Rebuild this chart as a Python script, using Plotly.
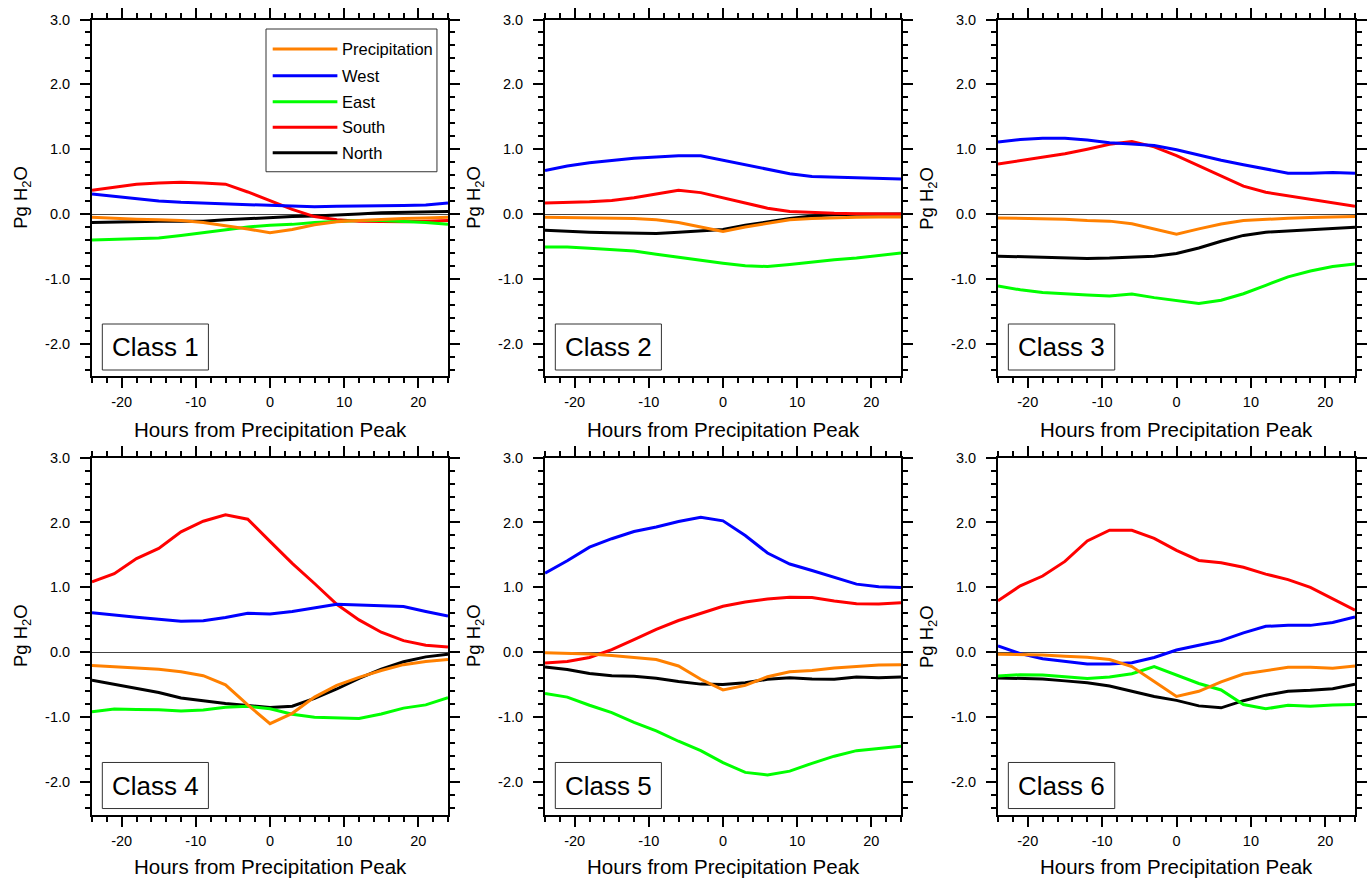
import plotly.graph_objects as go

hours = [-24, -21, -18, -15, -12, -9, -6, -3, 0, 3, 6, 9, 12, 15, 18, 21, 24]
class_names = ["Class 1", "Class 2", "Class 3", "Class 4", "Class 5", "Class 6"]
series_names = ["Precipitation", "West", "East", "South", "North"]

precip = [
    [-0.05, -0.07, -0.08, -0.09, -0.10, -0.13, -0.175, -0.23, -0.29, -0.24, -0.165, -0.12, -0.10, -0.08, -0.07, -0.06, -0.05],
    [-0.05, -0.055, -0.055, -0.055, -0.07, -0.09, -0.13, -0.20, -0.27, -0.20, -0.14, -0.09, -0.07, -0.055, -0.05, -0.045, -0.045],
    [-0.06, -0.065, -0.07, -0.08, -0.10, -0.11, -0.15, -0.23, -0.31, -0.23, -0.155, -0.10, -0.08, -0.065, -0.055, -0.045, -0.04],
    [-0.205, -0.22, -0.235, -0.26, -0.30, -0.36, -0.50, -0.81, -1.10, -0.94, -0.69, -0.51, -0.385, -0.28, -0.19, -0.14, -0.11],
    [-0.005, -0.01, -0.025, -0.05, -0.08, -0.11, -0.21, -0.415, -0.58, -0.51, -0.375, -0.30, -0.28, -0.24, -0.22, -0.195, -0.19],
    [-0.03, -0.03, -0.04, -0.06, -0.075, -0.11, -0.22, -0.45, -0.68, -0.60, -0.455, -0.335, -0.28, -0.23, -0.23, -0.245, -0.21],
]
west = [
    [0.31, 0.27, 0.23, 0.20, 0.18, 0.17, 0.16, 0.15, 0.14, 0.12, 0.11, 0.12, 0.12, 0.12, 0.13, 0.14, 0.17],
    [0.67, 0.74, 0.79, 0.83, 0.86, 0.88, 0.90, 0.90, 0.83, 0.75, 0.68, 0.62, 0.58, 0.57, 0.57, 0.56, 0.54],
    [1.11, 1.15, 1.17, 1.17, 1.14, 1.10, 1.08, 1.055, 0.99, 0.905, 0.83, 0.76, 0.695, 0.63, 0.63, 0.64, 0.63],
    [0.61, 0.57, 0.54, 0.51, 0.48, 0.485, 0.535, 0.60, 0.59, 0.63, 0.69, 0.74, 0.73, 0.715, 0.705, 0.63, 0.56],
    [1.22, 1.41, 1.62, 1.75, 1.86, 1.93, 2.015, 2.08, 2.025, 1.80, 1.53, 1.36, 1.26, 1.16, 1.05, 1.01, 1.00],
    [0.10, -0.02, -0.10, -0.145, -0.18, -0.18, -0.16, -0.08, 0.035, 0.11, 0.18, 0.30, 0.40, 0.415, 0.415, 0.46, 0.545],
]
east = [
    [-0.40, -0.39, -0.38, -0.37, -0.33, -0.29, -0.24, -0.20, -0.175, -0.16, -0.13, -0.11, -0.10, -0.10, -0.11, -0.13, -0.16],
    [-0.51, -0.51, -0.53, -0.545, -0.57, -0.62, -0.67, -0.72, -0.76, -0.80, -0.81, -0.78, -0.74, -0.705, -0.68, -0.64, -0.60],
    [-1.11, -1.17, -1.21, -1.235, -1.25, -1.265, -1.235, -1.29, -1.34, -1.38, -1.33, -1.23, -1.10, -0.97, -0.88, -0.81, -0.77],
    [-0.915, -0.875, -0.88, -0.885, -0.905, -0.89, -0.845, -0.83, -0.87, -0.955, -1.00, -1.01, -1.02, -0.95, -0.86, -0.81, -0.70],
    [-0.635, -0.69, -0.815, -0.93, -1.08, -1.21, -1.37, -1.515, -1.70, -1.85, -1.89, -1.83, -1.71, -1.60, -1.515, -1.475, -1.445],
    [-0.365, -0.345, -0.35, -0.38, -0.405, -0.38, -0.33, -0.22, -0.355, -0.48, -0.58, -0.805, -0.87, -0.815, -0.83, -0.81, -0.805],
]
south = [
    [0.365, 0.41, 0.46, 0.48, 0.49, 0.48, 0.46, 0.34, 0.20, 0.07, -0.04, -0.09, -0.11, -0.12, -0.12, -0.11, -0.10],
    [0.17, 0.175, 0.19, 0.21, 0.25, 0.31, 0.365, 0.33, 0.25, 0.17, 0.09, 0.04, 0.02, 0.01, 0.005, 0.0, 0.0],
    [0.77, 0.82, 0.88, 0.93, 1.00, 1.075, 1.12, 1.035, 0.90, 0.74, 0.58, 0.43, 0.335, 0.28, 0.23, 0.18, 0.12],
    [1.085, 1.21, 1.445, 1.60, 1.855, 2.02, 2.12, 2.05, 1.71, 1.37, 1.06, 0.74, 0.50, 0.31, 0.18, 0.11, 0.08],
    [-0.165, -0.14, -0.08, 0.04, 0.195, 0.355, 0.49, 0.605, 0.71, 0.775, 0.82, 0.85, 0.845, 0.79, 0.75, 0.745, 0.765],
    [0.795, 1.025, 1.175, 1.40, 1.715, 1.88, 1.88, 1.755, 1.57, 1.415, 1.38, 1.31, 1.205, 1.12, 1.00, 0.82, 0.65],
]
north = [
    [-0.13, -0.12, -0.12, -0.11, -0.11, -0.11, -0.09, -0.07, -0.05, -0.04, -0.03, -0.02, 0.00, 0.02, 0.03, 0.04, 0.04],
    [-0.25, -0.27, -0.28, -0.29, -0.29, -0.30, -0.28, -0.26, -0.24, -0.175, -0.12, -0.07, -0.03, -0.01, -0.005, -0.005, 0.0],
    [-0.65, -0.66, -0.67, -0.68, -0.685, -0.68, -0.66, -0.65, -0.61, -0.525, -0.42, -0.33, -0.28, -0.26, -0.245, -0.225, -0.205],
    [-0.43, -0.49, -0.555, -0.62, -0.705, -0.75, -0.79, -0.82, -0.85, -0.83, -0.71, -0.565, -0.40, -0.26, -0.145, -0.07, -0.03],
    [-0.225, -0.265, -0.325, -0.36, -0.37, -0.40, -0.45, -0.49, -0.495, -0.47, -0.415, -0.39, -0.41, -0.415, -0.38, -0.39, -0.38],
    [-0.395, -0.40, -0.41, -0.44, -0.47, -0.52, -0.595, -0.68, -0.74, -0.825, -0.855, -0.745, -0.66, -0.60, -0.585, -0.56, -0.49],
]

series_values = {"Precipitation": precip, "West": west, "East": east, "South": south, "North": north}
colors = {"Precipitation": "#FF8000", "West": "#0000FF", "East": "#00FF00", "South": "#FF0000", "North": "#000000"}
draw_order = ["North", "South", "East", "West", "Precipitation"]

W, H = 1372, 878
FONT = "Liberation Sans, Arial, Helvetica, sans-serif"


def vy(px):
    # compensate observed vertical offset/compression of the rendered page
    return (px - 7.97) / 0.9908


col_px = [(92, 448), (545, 901), (998, 1355)]
row_px = [(vy(19.5), vy(376)), (vy(457.5), vy(814.5))]
xt_px = [vy(429), vy(866)]
yt_off = 70

x_alias = {"\u221220": "-20", "\u221210": "-10"}
y_alias = {"\u22122.0": "-2.0", "\u22121.0": "-1.0"}

fig = go.Figure()
layout = dict(width=W, height=H, margin=dict(l=0, r=0, t=0, b=0),
              paper_bgcolor="white", plot_bgcolor="white", showlegend=False,
              font=dict(family=FONT, color="black"))
annotations = []
shapes = []

for k in range(6):
    r, c = divmod(k, 3)
    xa = "x" if k == 0 else f"x{k+1}"
    ya = "y" if k == 0 else f"y{k+1}"
    xkey = "xaxis" if k == 0 else f"xaxis{k+1}"
    ykey = "yaxis" if k == 0 else f"yaxis{k+1}"
    x0, x1 = col_px[c]
    y0, y1 = row_px[r]
    layout[xkey] = dict(domain=[x0 / W, x1 / W], anchor=ya, range=[-24, 24],
                        tickmode="linear", tick0=0, dtick=10, labelalias=x_alias,
                        ticks="outside", ticklen=10, tickwidth=2, tickcolor="black",
                        showline=True, linewidth=2, linecolor="black", mirror="ticks",
                        showgrid=False, zeroline=False,
                        tickfont=dict(size=14.5, family=FONT), ticklabelstandoff=2,
                        minor=dict(tick0=0, dtick=2, ticks="outside", ticklen=5,
                                   tickwidth=1.5, tickcolor="black", showgrid=False))
    layout[ykey] = dict(domain=[1 - y1 / H, 1 - y0 / H], anchor=xa, range=[-2.5, 3.0],
                        tickmode="linear", tick0=0, dtick=1, tickformat=".1f",
                        labelalias=y_alias,
                        ticks="outside", ticklen=10, tickwidth=2, tickcolor="black",
                        showline=True, linewidth=2, linecolor="black", mirror="ticks",
                        showgrid=False, zeroline=True, zerolinecolor="#444",
                        zerolinewidth=1,
                        tickfont=dict(size=14.5, family=FONT), ticklabelstandoff=7,
                        minor=dict(tick0=0, dtick=0.2, ticks="outside", ticklen=5,
                                   tickwidth=1.5, tickcolor="black", showgrid=False))
    for name in draw_order:
        fig.add_trace(go.Scatter(x=hours, y=series_values[name][k], mode="lines",
                                 name=name, xaxis=xa, yaxis=ya,
                                 line=dict(color=colors[name], width=3)))
    # axis titles
    annotations.append(dict(text="Hours from Precipitation Peak", xref="paper", yref="paper",
                            x=(x0 + x1) / 2 / W, y=1 - xt_px[r] / H, showarrow=False,
                            xanchor="center", yanchor="middle",
                            font=dict(size=20.5, family=FONT)))
    annotations.append(dict(text="Pg H<sub>2</sub>O", xref="paper", yref="paper",
                            x=(x0 - yt_off) / W, y=1 - (y0 + y1) / 2 / H, showarrow=False,
                            textangle=-90, xanchor="center", yanchor="middle",
                            font=dict(size=18.5, family=FONT)))
    # class label box
    shapes.append(dict(type="rect", xref=f"{xa} domain", yref=f"{ya} domain",
                       x0=0.029, x1=0.327, y0=0.017, y1=0.146,
                       line=dict(color="#333", width=1), fillcolor="white"))
    annotations.append(dict(text=class_names[k], xref=f"{xa} domain", yref=f"{ya} domain",
                            x=0.178, y=0.0815, showarrow=False, xanchor="center",
                            yanchor="middle", font=dict(size=26, family=FONT)))

# custom legend in panel 1
shapes.append(dict(type="rect", xref="x domain", yref="y domain",
                   x0=0.4888, x1=0.969, y0=0.5731, y1=0.9734,
                   line=dict(color="#333", width=1), fillcolor="white"))
leg_rows = [0.9173, 0.8424, 0.7694, 0.6976, 0.6264]
for name, yy in zip(series_names, leg_rows):
    shapes.append(dict(type="line", xref="x domain", yref="y domain",
                       x0=0.5076, x1=0.6893, y0=yy, y1=yy,
                       line=dict(color=colors[name], width=3)))
    annotations.append(dict(text=name, xref="x domain", yref="y domain",
                            x=0.6966, y=yy, showarrow=False, xanchor="left",
                            yanchor="middle", font=dict(size=16.5, family=FONT)))

layout["annotations"] = annotations
layout["shapes"] = shapes
fig.update_layout(**layout)
fig.write_html("out.html")
